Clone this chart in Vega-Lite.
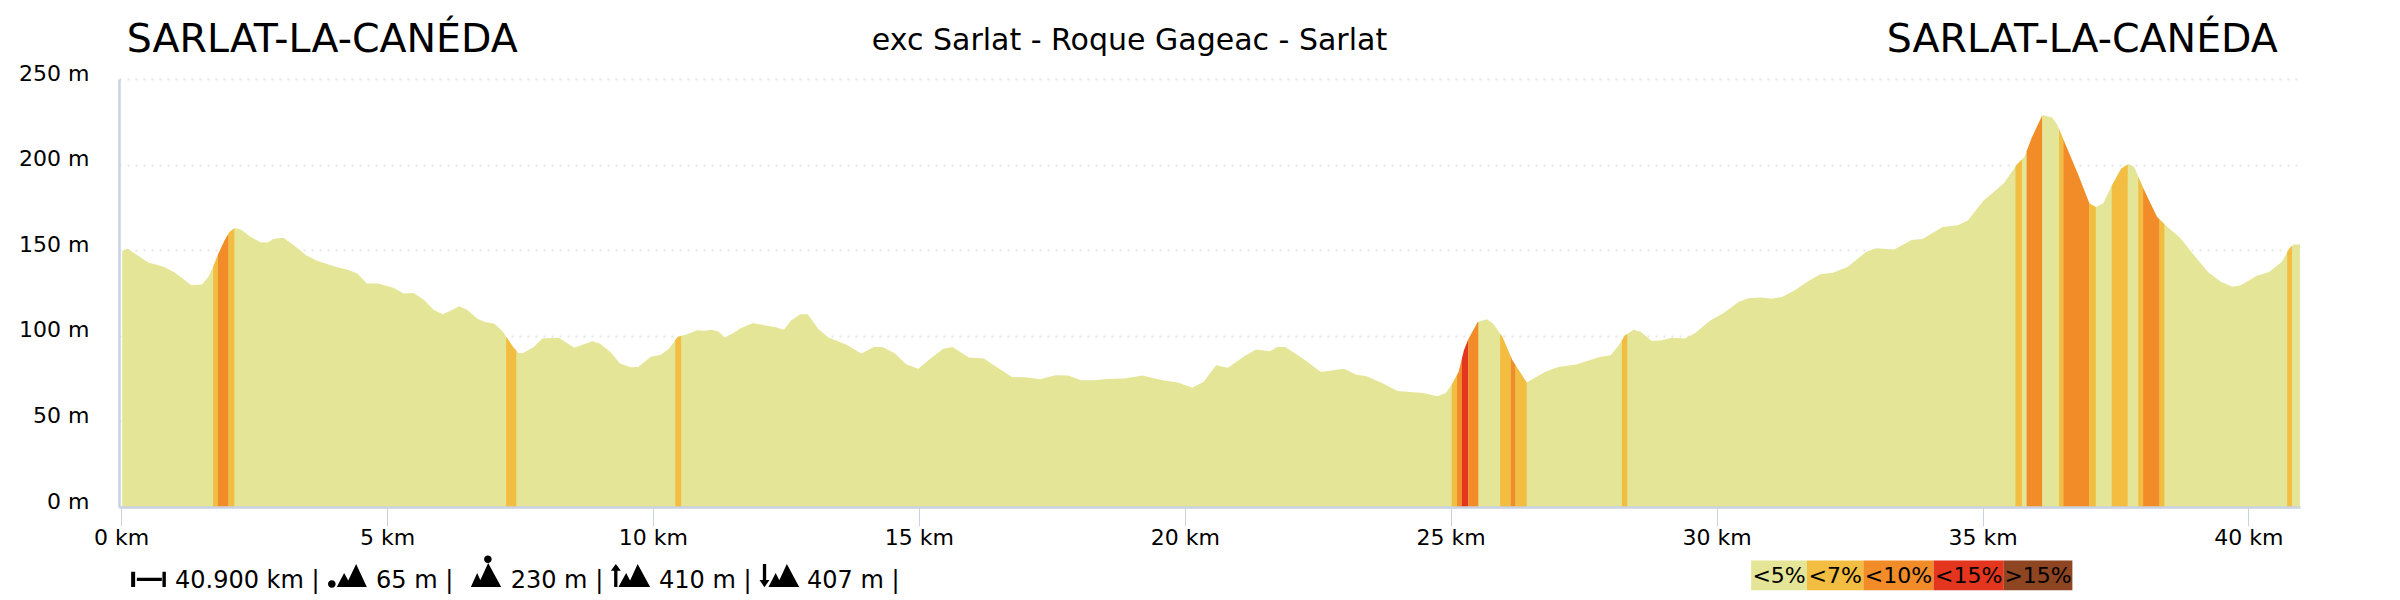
{"$schema":"https://vega.github.io/schema/vega-lite/v6.json","width":2181,"height":428,"autosize":"none","padding":{"left":119,"top":79,"right":100,"bottom":93},"background":"white","config":{"view":{"stroke":null},"font":"DejaVu Sans","text":{"font":"DejaVu Sans"}},"layer":[{"data":{"values":[
{"seg":"s0","grade":"<5%","km":0.02,"m":149.6},{"seg":"s0","grade":"<5%","km":0.12,"m":151},{"seg":"s0","grade":"<5%","km":0.24,"m":148.4},{"seg":"s0","grade":"<5%","km":0.51,"m":142.8},{"seg":"s0","grade":"<5%","km":0.8,"m":140.3},{"seg":"s0","grade":"<5%","km":0.99,"m":137.3},{"seg":"s0","grade":"<5%","km":1.13,"m":134},{"seg":"s0","grade":"<5%","km":1.32,"m":129.6},{"seg":"s0","grade":"<5%","km":1.52,"m":130},{"seg":"s0","grade":"<5%","km":1.64,"m":134.4},{"seg":"s0","grade":"<5%","km":1.74,"m":141},{"seg":"s0","grade":"<5%","km":1.83,"m":148},{"seg":"s0","grade":"<5%","km":1.95,"m":155.9},{"seg":"s0","grade":"<5%","km":2.04,"m":160.7},{"seg":"s0","grade":"<5%","km":2.14,"m":163},{"seg":"s0","grade":"<5%","km":2.26,"m":162},{"seg":"s0","grade":"<5%","km":2.43,"m":157.8},{"seg":"s0","grade":"<5%","km":2.62,"m":154.7},{"seg":"s0","grade":"<5%","km":2.76,"m":154.5},{"seg":"s0","grade":"<5%","km":2.86,"m":156.6},{"seg":"s0","grade":"<5%","km":3.05,"m":157.2},{"seg":"s0","grade":"<5%","km":3.24,"m":153},{"seg":"s0","grade":"<5%","km":3.48,"m":147},{"seg":"s0","grade":"<5%","km":3.67,"m":144},{"seg":"s0","grade":"<5%","km":3.87,"m":142},{"seg":"s0","grade":"<5%","km":4.06,"m":140},{"seg":"s0","grade":"<5%","km":4.25,"m":138.7},{"seg":"s0","grade":"<5%","km":4.44,"m":136.4},{"seg":"s0","grade":"<5%","km":4.62,"m":130.5},{"seg":"s0","grade":"<5%","km":4.83,"m":130.5},{"seg":"s0","grade":"<5%","km":5.12,"m":128},{"seg":"s0","grade":"<5%","km":5.31,"m":124.7},{"seg":"s0","grade":"<5%","km":5.5,"m":125},{"seg":"s0","grade":"<5%","km":5.69,"m":121},{"seg":"s0","grade":"<5%","km":5.88,"m":115},{"seg":"s0","grade":"<5%","km":6.05,"m":112.6},{"seg":"s0","grade":"<5%","km":6.22,"m":115},{"seg":"s0","grade":"<5%","km":6.36,"m":117.3},{"seg":"s0","grade":"<5%","km":6.51,"m":115},{"seg":"s0","grade":"<5%","km":6.7,"m":110},{"seg":"s0","grade":"<5%","km":6.84,"m":108},{"seg":"s0","grade":"<5%","km":7.02,"m":107},{"seg":"s0","grade":"<5%","km":7.18,"m":102.3},{"seg":"s0","grade":"<5%","km":7.25,"m":99},{"seg":"s0","grade":"<5%","km":7.37,"m":93.5},{"seg":"s0","grade":"<5%","km":7.47,"m":90},{"seg":"s0","grade":"<5%","km":7.56,"m":90},{"seg":"s0","grade":"<5%","km":7.76,"m":93.5},{"seg":"s0","grade":"<5%","km":7.92,"m":98.4},{"seg":"s0","grade":"<5%","km":8.23,"m":98.8},{"seg":"s0","grade":"<5%","km":8.52,"m":93},{"seg":"s0","grade":"<5%","km":8.86,"m":96.8},{"seg":"s0","grade":"<5%","km":9.0,"m":95.5},{"seg":"s0","grade":"<5%","km":9.2,"m":90.6},{"seg":"s0","grade":"<5%","km":9.38,"m":83.8},{"seg":"s0","grade":"<5%","km":9.58,"m":81.6},{"seg":"s0","grade":"<5%","km":9.72,"m":81.8},{"seg":"s0","grade":"<5%","km":9.96,"m":87.7},{"seg":"s0","grade":"<5%","km":10.15,"m":89},{"seg":"s0","grade":"<5%","km":10.3,"m":92.5},{"seg":"s0","grade":"<5%","km":10.47,"m":99.4},{"seg":"s0","grade":"<5%","km":10.63,"m":100.7},{"seg":"s0","grade":"<5%","km":10.83,"m":103.3},{"seg":"s0","grade":"<5%","km":10.97,"m":102.9},{"seg":"s0","grade":"<5%","km":11.11,"m":103.6},{"seg":"s0","grade":"<5%","km":11.24,"m":102.3},{"seg":"s0","grade":"<5%","km":11.35,"m":99},{"seg":"s0","grade":"<5%","km":11.5,"m":101.3},{"seg":"s0","grade":"<5%","km":11.64,"m":104.2},{"seg":"s0","grade":"<5%","km":11.88,"m":107.5},{"seg":"s0","grade":"<5%","km":12.12,"m":106},{"seg":"s0","grade":"<5%","km":12.31,"m":105},{"seg":"s0","grade":"<5%","km":12.46,"m":103.6},{"seg":"s0","grade":"<5%","km":12.6,"m":109},{"seg":"s0","grade":"<5%","km":12.77,"m":112.6},{"seg":"s0","grade":"<5%","km":12.91,"m":112.6},{"seg":"s0","grade":"<5%","km":13.11,"m":104},{"seg":"s0","grade":"<5%","km":13.3,"m":99},{"seg":"s0","grade":"<5%","km":13.63,"m":94.9},{"seg":"s0","grade":"<5%","km":13.92,"m":89.6},{"seg":"s0","grade":"<5%","km":14.16,"m":93.5},{"seg":"s0","grade":"<5%","km":14.32,"m":93.5},{"seg":"s0","grade":"<5%","km":14.55,"m":89.6},{"seg":"s0","grade":"<5%","km":14.76,"m":83.4},{"seg":"s0","grade":"<5%","km":14.99,"m":80.8},{"seg":"s0","grade":"<5%","km":15.22,"m":86.7},{"seg":"s0","grade":"<5%","km":15.46,"m":92.5},{"seg":"s0","grade":"<5%","km":15.63,"m":93.5},{"seg":"s0","grade":"<5%","km":15.94,"m":87.3},{"seg":"s0","grade":"<5%","km":16.22,"m":86.7},{"seg":"s0","grade":"<5%","km":16.46,"m":81.8},{"seg":"s0","grade":"<5%","km":16.75,"m":76},{"seg":"s0","grade":"<5%","km":17.04,"m":75.6},{"seg":"s0","grade":"<5%","km":17.28,"m":74.6},{"seg":"s0","grade":"<5%","km":17.57,"m":77},{"seg":"s0","grade":"<5%","km":17.81,"m":76.8},{"seg":"s0","grade":"<5%","km":18.05,"m":74},{"seg":"s0","grade":"<5%","km":18.29,"m":74},{"seg":"s0","grade":"<5%","km":18.53,"m":74.8},{"seg":"s0","grade":"<5%","km":18.86,"m":75},{"seg":"s0","grade":"<5%","km":19.2,"m":76.8},{"seg":"s0","grade":"<5%","km":19.58,"m":74},{"seg":"s0","grade":"<5%","km":19.87,"m":72.7},{"seg":"s0","grade":"<5%","km":20.14,"m":69.7},{"seg":"s0","grade":"<5%","km":20.35,"m":73},{"seg":"s0","grade":"<5%","km":20.59,"m":82.8},{"seg":"s0","grade":"<5%","km":20.81,"m":81.4},{"seg":"s0","grade":"<5%","km":21.12,"m":88},{"seg":"s0","grade":"<5%","km":21.34,"m":92},{"seg":"s0","grade":"<5%","km":21.6,"m":91},{"seg":"s0","grade":"<5%","km":21.74,"m":93.5},{"seg":"s0","grade":"<5%","km":21.89,"m":93.5},{"seg":"s0","grade":"<5%","km":22.22,"m":86.7},{"seg":"s0","grade":"<5%","km":22.56,"m":78.9},{"seg":"s0","grade":"<5%","km":22.99,"m":80.7},{"seg":"s0","grade":"<5%","km":23.23,"m":77.3},{"seg":"s0","grade":"<5%","km":23.42,"m":76.4},{"seg":"s0","grade":"<5%","km":23.71,"m":72.5},{"seg":"s0","grade":"<5%","km":24.0,"m":67.8},{"seg":"s0","grade":"<5%","km":24.48,"m":66.6},{"seg":"s0","grade":"<5%","km":24.75,"m":64.7},{"seg":"s0","grade":"<5%","km":24.91,"m":66.6},{"seg":"s0","grade":"<5%","km":25.03,"m":72},{"seg":"s0","grade":"<5%","km":25.15,"m":78.9},{"seg":"s0","grade":"<5%","km":25.25,"m":91.6},{"seg":"s0","grade":"<5%","km":25.34,"m":98.4},{"seg":"s0","grade":"<5%","km":25.51,"m":108},{"seg":"s0","grade":"<5%","km":25.68,"m":109.7},{"seg":"s0","grade":"<5%","km":25.8,"m":107},{"seg":"s0","grade":"<5%","km":25.97,"m":99.4},{"seg":"s0","grade":"<5%","km":26.16,"m":85.7},{"seg":"s0","grade":"<5%","km":26.43,"m":72.7},{"seg":"s0","grade":"<5%","km":26.78,"m":79},{"seg":"s0","grade":"<5%","km":27.02,"m":81.8},{"seg":"s0","grade":"<5%","km":27.36,"m":83.2},{"seg":"s0","grade":"<5%","km":27.82,"m":87.7},{"seg":"s0","grade":"<5%","km":28.01,"m":88.6},{"seg":"s0","grade":"<5%","km":28.16,"m":94.5},{"seg":"s0","grade":"<5%","km":28.28,"m":100.3},{"seg":"s0","grade":"<5%","km":28.44,"m":103.6},{"seg":"s0","grade":"<5%","km":28.57,"m":102.3},{"seg":"s0","grade":"<5%","km":28.78,"m":97},{"seg":"s0","grade":"<5%","km":28.97,"m":97.4},{"seg":"s0","grade":"<5%","km":29.16,"m":98.8},{"seg":"s0","grade":"<5%","km":29.4,"m":98.4},{"seg":"s0","grade":"<5%","km":29.6,"m":101.7},{"seg":"s0","grade":"<5%","km":29.88,"m":109},{"seg":"s0","grade":"<5%","km":30.12,"m":113},{"seg":"s0","grade":"<5%","km":30.41,"m":119.7},{"seg":"s0","grade":"<5%","km":30.6,"m":122},{"seg":"s0","grade":"<5%","km":30.84,"m":122.3},{"seg":"s0","grade":"<5%","km":31.03,"m":121.6},{"seg":"s0","grade":"<5%","km":31.23,"m":122.7},{"seg":"s0","grade":"<5%","km":31.47,"m":126.6},{"seg":"s0","grade":"<5%","km":31.75,"m":132.5},{"seg":"s0","grade":"<5%","km":31.95,"m":136},{"seg":"s0","grade":"<5%","km":32.19,"m":136.8},{"seg":"s0","grade":"<5%","km":32.47,"m":140.3},{"seg":"s0","grade":"<5%","km":32.81,"m":149},{"seg":"s0","grade":"<5%","km":33.0,"m":151.2},{"seg":"s0","grade":"<5%","km":33.34,"m":150.4},{"seg":"s0","grade":"<5%","km":33.67,"m":156},{"seg":"s0","grade":"<5%","km":33.87,"m":156.6},{"seg":"s0","grade":"<5%","km":34.25,"m":163.6},{"seg":"s0","grade":"<5%","km":34.54,"m":164.6},{"seg":"s0","grade":"<5%","km":34.73,"m":167.5},{"seg":"s0","grade":"<5%","km":35.02,"m":179},{"seg":"s0","grade":"<5%","km":35.21,"m":184},{"seg":"s0","grade":"<5%","km":35.4,"m":189},{"seg":"s0","grade":"<5%","km":35.64,"m":199.7},{"seg":"s0","grade":"<5%","km":35.79,"m":204.6},{"seg":"s0","grade":"<5%","km":35.93,"m":216},{"seg":"s0","grade":"<5%","km":36.13,"m":228.9},{"seg":"s0","grade":"<5%","km":36.31,"m":227.5},{"seg":"s0","grade":"<5%","km":36.41,"m":223},{"seg":"s0","grade":"<5%","km":36.55,"m":212.4},{"seg":"s0","grade":"<5%","km":36.79,"m":194.8},{"seg":"s0","grade":"<5%","km":37.01,"m":177.3},{"seg":"s0","grade":"<5%","km":37.13,"m":175.3},{"seg":"s0","grade":"<5%","km":37.27,"m":177.3},{"seg":"s0","grade":"<5%","km":37.42,"m":187},{"seg":"s0","grade":"<5%","km":37.61,"m":197.7},{"seg":"s0","grade":"<5%","km":37.75,"m":200.3},{"seg":"s0","grade":"<5%","km":37.85,"m":198.7},{"seg":"s0","grade":"<5%","km":38.04,"m":185},{"seg":"s0","grade":"<5%","km":38.28,"m":169.5},{"seg":"s0","grade":"<5%","km":38.42,"m":165.2},{"seg":"s0","grade":"<5%","km":38.71,"m":157.4},{"seg":"s0","grade":"<5%","km":38.95,"m":148},{"seg":"s0","grade":"<5%","km":39.24,"m":137.3},{"seg":"s0","grade":"<5%","km":39.48,"m":131.5},{"seg":"s0","grade":"<5%","km":39.7,"m":128.6},{"seg":"s0","grade":"<5%","km":39.86,"m":129.6},{"seg":"s0","grade":"<5%","km":40.15,"m":135},{"seg":"s0","grade":"<5%","km":40.39,"m":137.3},{"seg":"s0","grade":"<5%","km":40.63,"m":143.2},{"seg":"s0","grade":"<5%","km":40.77,"m":151},{"seg":"s0","grade":"<5%","km":40.85,"m":153.3},{"seg":"s0","grade":"<5%","km":40.97,"m":153.3},
{"seg":"a1","grade":"<7%","km":1.73,"m":140.3},{"seg":"a1","grade":"<7%","km":1.74,"m":141},{"seg":"a1","grade":"<7%","km":1.82,"m":147.4},
{"seg":"a2","grade":"<10%","km":1.82,"m":147.4},{"seg":"a2","grade":"<10%","km":1.83,"m":148},{"seg":"a2","grade":"<10%","km":1.95,"m":155.9},{"seg":"a2","grade":"<10%","km":2.02,"m":159.8},
{"seg":"a3","grade":"<7%","km":2.02,"m":159.8},{"seg":"a3","grade":"<7%","km":2.04,"m":160.7},{"seg":"a3","grade":"<7%","km":2.13,"m":162.8},
{"seg":"b1","grade":"<7%","km":7.24,"m":99.5},{"seg":"b1","grade":"<7%","km":7.25,"m":99},{"seg":"b1","grade":"<7%","km":7.37,"m":93.5},{"seg":"b1","grade":"<7%","km":7.43,"m":91.4},
{"seg":"c1","grade":"<7%","km":10.42,"m":97.4},{"seg":"c1","grade":"<7%","km":10.47,"m":99.4},{"seg":"c1","grade":"<7%","km":10.53,"m":99.9},
{"seg":"d1","grade":"<7%","km":25.02,"m":71.5},{"seg":"d1","grade":"<7%","km":25.03,"m":72},{"seg":"d1","grade":"<7%","km":25.12,"m":77.2},
{"seg":"d2","grade":"<10%","km":25.12,"m":77.2},{"seg":"d2","grade":"<10%","km":25.15,"m":78.9},{"seg":"d2","grade":"<10%","km":25.21,"m":86.5},
{"seg":"d3","grade":"<15%","km":25.21,"m":86.5},{"seg":"d3","grade":"<15%","km":25.25,"m":91.6},{"seg":"d3","grade":"<15%","km":25.33,"m":97.8},
{"seg":"d4","grade":"<10%","km":25.33,"m":97.8},{"seg":"d4","grade":"<10%","km":25.34,"m":98.4},{"seg":"d4","grade":"<10%","km":25.51,"m":108},{"seg":"d4","grade":"<10%","km":25.52,"m":108.1},
{"seg":"d5","grade":"<7%","km":25.93,"m":101.2},{"seg":"d5","grade":"<7%","km":25.97,"m":99.4},{"seg":"d5","grade":"<7%","km":26.13,"m":87.9},
{"seg":"d6","grade":"<10%","km":26.13,"m":87.9},{"seg":"d6","grade":"<10%","km":26.16,"m":85.7},{"seg":"d6","grade":"<10%","km":26.22,"m":82.8},
{"seg":"d7","grade":"<7%","km":26.22,"m":82.8},{"seg":"d7","grade":"<7%","km":26.43,"m":72.7},
{"seg":"e1","grade":"<7%","km":28.22,"m":97.4},{"seg":"e1","grade":"<7%","km":28.28,"m":100.3},{"seg":"e1","grade":"<7%","km":28.32,"m":101.1},
{"seg":"f1","grade":"<7%","km":35.62,"m":198.8},{"seg":"f1","grade":"<7%","km":35.64,"m":199.7},{"seg":"f1","grade":"<7%","km":35.74,"m":203},
{"seg":"f2","grade":"<10%","km":35.83,"m":207.8},{"seg":"f2","grade":"<10%","km":35.93,"m":216},{"seg":"f2","grade":"<10%","km":36.12,"m":228.5},
{"seg":"f3","grade":"<7%","km":36.44,"m":220.7},{"seg":"f3","grade":"<7%","km":36.52,"m":214.7},
{"seg":"f4","grade":"<10%","km":36.52,"m":214.7},{"seg":"f4","grade":"<10%","km":36.55,"m":212.4},{"seg":"f4","grade":"<10%","km":36.79,"m":194.8},{"seg":"f4","grade":"<10%","km":37.01,"m":177.3},
{"seg":"f5","grade":"<7%","km":37.01,"m":177.3},{"seg":"f5","grade":"<7%","km":37.13,"m":175.3},
{"seg":"f6","grade":"<7%","km":37.43,"m":187.6},{"seg":"f6","grade":"<7%","km":37.61,"m":197.7},{"seg":"f6","grade":"<7%","km":37.73,"m":200},
{"seg":"f7","grade":"<7%","km":37.93,"m":192.9},{"seg":"f7","grade":"<7%","km":38.02,"m":186.4},
{"seg":"f8","grade":"<10%","km":38.02,"m":186.4},{"seg":"f8","grade":"<10%","km":38.04,"m":185},{"seg":"f8","grade":"<10%","km":38.28,"m":169.5},{"seg":"f8","grade":"<10%","km":38.33,"m":168},
{"seg":"f9","grade":"<7%","km":38.33,"m":168},{"seg":"f9","grade":"<7%","km":38.42,"m":165.2},
{"seg":"g1","grade":"<7%","km":40.73,"m":148.8},{"seg":"g1","grade":"<7%","km":40.77,"m":151},{"seg":"g1","grade":"<7%","km":40.82,"m":152.4}
]},"mark":{"type":"area","clip":false},"encoding":{
"x":{"field":"km","type":"quantitative","scale":{"domain":[-0.04,40.97],"nice":false,"zero":false},"axis":{"title":null,"values":[0,5,10,15,20,25,30,35,40],"labelExpr":"datum.value + ' km'","grid":false,"domainColor":"#c8d2e0","domainWidth":2.5,"tickColor":"#c8d2e0","tickWidth":1,"tickSize":19,"labelFontSize":22,"labelFont":"DejaVu Sans","labelColor":"#000000","labelPadding":1.5,"labelFlush":false,"labelOverlap":false,"zindex":1}},
"y":{"field":"m","type":"quantitative","stack":null,"scale":{"domain":[0,250],"nice":false},"axis":{"title":null,"values":[0,50,100,150,200,250],"labelExpr":"datum.value + ' m'","grid":true,"gridColor":"#e6e6e6","gridWidth":2,"gridDash":[2,6],"domainColor":"#c8d2e0","domainWidth":2.5,"ticks":false,"labelFontSize":22,"labelFont":"DejaVu Sans","labelColor":"#000000","labelPadding":30,"labelOffset":-6,"labelOverlap":false}},
"detail":{"field":"seg","type":"nominal"},
"color":{"field":"grade","type":"nominal","scale":{"domain":["<5%","<7%","<10%","<15%",">15%"],"range":["#e4e596","#f2bd41","#f18c28","#e4351f","#8e4522"]},"legend":null}}},
{"data":{"values":[{"label":"<5%","a":30.65,"b":31.70,"low":-48.7,"high":-31.2,"mid":-40.5,"c":31.175},{"label":"<7%","a":31.70,"b":32.76,"low":-48.7,"high":-31.2,"mid":-40.5,"c":32.23},{"label":"<10%","a":32.76,"b":34.08,"low":-48.7,"high":-31.2,"mid":-40.5,"c":33.42},{"label":"<15%","a":34.08,"b":35.40,"low":-48.7,"high":-31.2,"mid":-40.5,"c":34.74},{"label":">15%","a":35.40,"b":36.69,"low":-48.7,"high":-31.2,"mid":-40.5,"c":36.045}]},"layer":[{"mark":{"type":"rect","clip":false},"encoding":{"x":{"field":"a","type":"quantitative"},"x2":{"field":"b"},"y":{"field":"low","type":"quantitative"},"y2":{"field":"high"},"color":{"field":"label","type":"nominal","legend":null}}},{"mark":{"type":"text","clip":false,"fontSize":22,"font":"DejaVu Sans","align":"center","baseline":"middle","color":"#000000"},"encoding":{"x":{"field":"c","type":"quantitative"},"y":{"field":"mid","type":"quantitative"},"text":{"field":"label"}}}]},
{"data":{"values":[{"label":"SARLAT-LA-CANÉDA","km":0.105,"m":266},{"label":"SARLAT-LA-CANÉDA","km":33.2,"m":266}]},"mark":{"type":"text","clip":false,"fontSize":39.5,"font":"DejaVu Sans","align":"left","baseline":"alphabetic","color":"#000000"},"encoding":{"x":{"field":"km","type":"quantitative"},"y":{"field":"m","type":"quantitative"},"text":{"field":"label"}}},
{"data":{"values":[{"label":"exc Sarlat - Roque Gageac - Sarlat","km":18.96,"m":267}]},"mark":{"type":"text","clip":false,"fontSize":30,"font":"DejaVu Sans","align":"center","baseline":"alphabetic","color":"#000000"},"encoding":{"x":{"field":"km","type":"quantitative"},"y":{"field":"m","type":"quantitative"},"text":{"field":"label"}}},
{"data":{"values":[{"label":"40.900 km |","km":1.013,"m":-47.1},{"label":"65 m |","km":4.793,"m":-47.1},{"label":"230 m |","km":7.325,"m":-47.1},{"label":"410 m |","km":10.114,"m":-47.1},{"label":"407 m |","km":12.897,"m":-47.1}]},"mark":{"type":"text","clip":false,"fontSize":24,"font":"DejaVu Sans","align":"left","baseline":"alphabetic","color":"#000000"},"encoding":{"x":{"field":"km","type":"quantitative"},"y":{"field":"m","type":"quantitative"},"text":{"field":"label"}}},
{"data":{"values":[{"icon":"distance","km":0.508,"m":-42.6},{"icon":"min","km":4.306,"m":-42.6},{"icon":"max","km":6.864,"m":-42.6},{"icon":"up","km":9.571,"m":-42.6},{"icon":"down","km":12.204,"m":-42.6}]},"mark":{"type":"point","filled":true,"clip":false,"opacity":1,"size":1600,"color":"#000000"},"encoding":{"x":{"field":"km","type":"quantitative"},"y":{"field":"m","type":"quantitative"},"shape":{"field":"icon","type":"nominal","legend":null,"scale":{"domain":["distance","min","max","up","down"],"range":[
"M-0.85 -0.415H-0.65V0.35H-0.85ZM-0.565 -0.115H0.685V0.05H-0.565ZM0.715 -0.415H0.885V0.35H0.715Z",
"M-1.105 0.2A0.19 0.19 0 1 0 -0.725 0.2A0.19 0.19 0 1 0 -1.105 0.2ZM-0.665 0.35L-0.3 -0.35L0.085 0.35ZM-0.25 0.35L0.3 -0.8L0.835 0.35Z",
"M-0.105 -1.035A0.19 0.19 0 1 0 0.275 -1.035A0.19 0.19 0 1 0 -0.105 -1.035ZM-0.765 0.35L-0.45 -0.35L-0.135 0.35ZM-0.45 0.35L0.1 -0.85L0.75 0.35Z",
"M-0.715 -0.8L-0.465 -0.465H-0.635V0.35H-0.8V-0.465H-0.965ZM-0.585 0.35L-0.2 -0.35L0.165 0.35ZM-0.15 0.35L0.375 -0.8L1 0.35Z",
"M-0.365 -0.8H-0.2V0H-0.035L-0.285 0.365L-0.535 0H-0.365ZM-0.085 0.35L0.275 -0.35L0.635 0.35ZM0.3 0.35L0.835 -0.8L1.45 0.35Z"
]}}}}
],"resolve":{"scale":{"color":"shared"}}}
